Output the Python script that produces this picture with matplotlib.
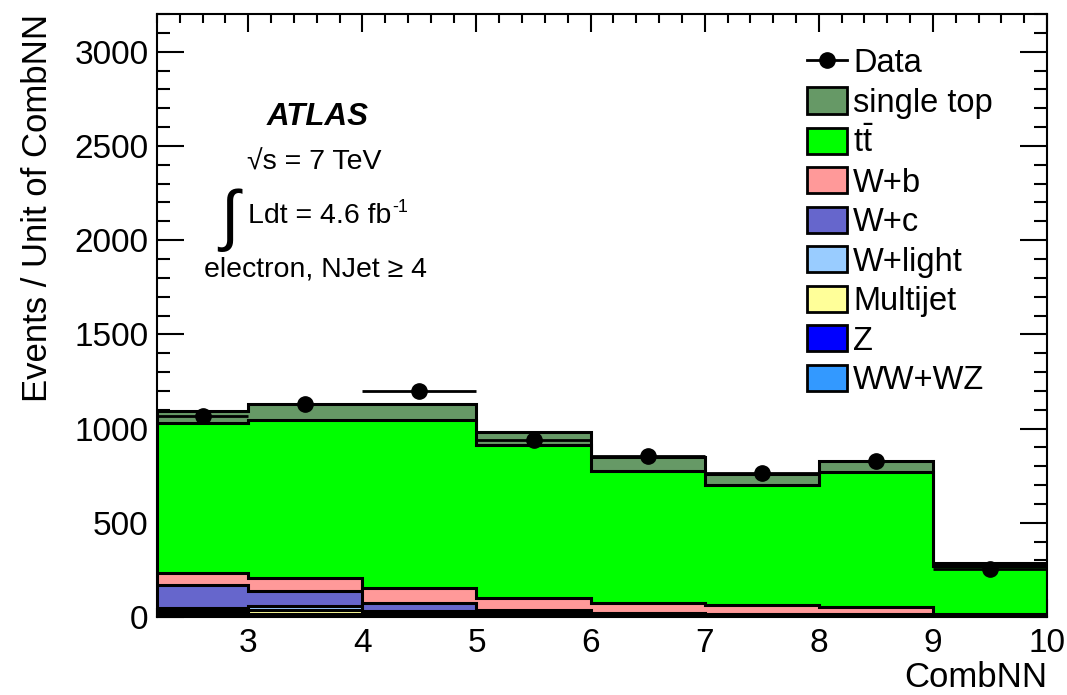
import numpy as np
import matplotlib
matplotlib.use("Agg")
import matplotlib.pyplot as plt
from matplotlib.patches import Patch
from matplotlib.lines import Line2D
from matplotlib.ticker import MultipleLocator

plt.rcParams['font.family'] = ['Liberation Sans', 'DejaVu Sans']
plt.rcParams['mathtext.fontset'] = 'custom'
plt.rcParams['mathtext.rm'] = 'Liberation Sans'
plt.rcParams['mathtext.it'] = 'Liberation Sans:italic'

# CombNN binning (first bin starts at 2.2)
bin_edges = [2.2, 3, 4, 5, 6, 7, 8, 9, 10]

# events per unit of CombNN, bottom of the stack first
ww_wz = [4, 4, 3, 2, 2, 1, 1, 1]
z_jets = [10, 11, 7, 6, 3, 3, 2, 1]
multijet = [16, 20, 10, 6, 4, 4, 3, 1]
w_light = [20, 21, 10, 8, 5, 4, 4, 2]
w_c = [120, 82, 46, 15, 6, 6, 5, 3]
w_b = [66, 70, 79, 64, 54, 44, 38, 10]
ttbar = [794, 838, 893, 812, 703, 638, 715, 250]
single_top = [62, 82, 85, 67, 73, 59, 58, 21]

data = [1069, 1128, 1197, 941, 856, 762, 826, 254]

stack = [
    ("WW+WZ", ww_wz, "#3399ff"),
    ("Z", z_jets, "#0000ff"),
    ("Multijet", multijet, "#ffff99"),
    ("W+light", w_light, "#99ccff"),
    ("W+c", w_c, "#6666cc"),
    ("W+b", w_b, "#ff9999"),
    (r"$\mathrm{t\bar{t}}$", ttbar, "#00ff00"),
    ("single top", single_top, "#669966"),
]

W, H = 1067, 695
fig = plt.figure(figsize=(W / 100, H / 100), dpi=100)
ax = fig.add_axes([157 / W, 1 - 617 / H, 890 / W, 603 / H])

edges = np.array(bin_edges)
cum = np.cumsum([np.array(v, dtype=float) for _, v, _ in stack], axis=0)

# draw the largest cumulative histogram first so the lower ones sit on top
for i in range(len(stack) - 1, -1, -1):
    name, vals, col = stack[i]
    ax.stairs(cum[i], edges, baseline=0, fill=True, facecolor=col, edgecolor='none', zorder=2)
    ax.stairs(cum[i], edges, baseline=0, fill=False, color='black', linewidth=2.2, zorder=2)

centers = 0.5 * (edges[:-1] + edges[1:])
halfw = 0.5 * np.diff(edges)
ax.errorbar(centers, data, xerr=halfw, fmt='o', color='black', markersize=11,
            elinewidth=2, capsize=0, zorder=5)

ax.set_xlim(2.2, 10)
ax.set_ylim(0, 3200)
ax.xaxis.set_major_locator(MultipleLocator(1))
ax.xaxis.set_minor_locator(MultipleLocator(0.2))
ax.yaxis.set_major_locator(MultipleLocator(500))
ax.yaxis.set_minor_locator(MultipleLocator(100))
ax.tick_params(which='both', direction='in', top=True, right=True, width=1.5,
               labelsize=24, zorder=6)
ax.tick_params(axis='y', which='major', length=19.5, pad=6)
ax.tick_params(axis='y', which='minor', length=9.5)
ax.tick_params(axis='x', which='major', length=13, pad=8)
ax.tick_params(axis='x', which='minor', length=6.5)
ax.set_xticks([3, 4, 5, 6, 7, 8, 9, 10])
for s in ax.spines.values():
    s.set_linewidth(1.5)
    s.set_zorder(7)

ax.set_xlabel("CombNN", fontsize=25, loc='right', labelpad=1.5)
ax.set_ylabel("Events / Unit of CombNN", fontsize=25, loc='top', labelpad=15)

# legend, top entry first
handles = [Line2D([], [], color='black', marker='o', markersize=11, linewidth=2)]
labels = ["Data"]
for name, vals, col in reversed(stack):
    handles.append(Patch(facecolor=col, edgecolor='black', linewidth=2))
    labels.append(name)
fig.legend(handles, labels, loc='upper left', bbox_to_anchor=(807 / W, 1 - 48 / H),
           frameon=False, fontsize=23.5, handlelength=1.22, handleheight=0.85,
           handletextpad=0.2, labelspacing=0.25, borderpad=0, borderaxespad=0)

fig.text(318 / W, 1 - 117 / H, "ATLAS", fontsize=22.5, fontweight='bold', style='italic',
         ha='center', va='center')
fig.text(314 / W, 1 - 163 / H, "\u221as = 7 TeV", fontsize=20.5, ha='center', va='center')
fig.text(229 / W, 1 - 220 / H, "\u222b", fontsize=48, ha='center', va='center')
lum = fig.text(248 / W, 1 - 216 / H, "Ldt = 4.6 fb", fontsize=20.5, ha='left', va='center')
fig.canvas.draw()
bb = lum.get_window_extent()
fig.text((bb.x1 + 1) / W, (bb.y1 - 4) / H, "-1", fontsize=13, ha='left', va='center')
fig.text(316 / W, 1 - 269 / H, "electron, NJet \u2265 4", fontsize=20.5, ha='center', va='center')

fig.savefig("out.png", dpi=100)
